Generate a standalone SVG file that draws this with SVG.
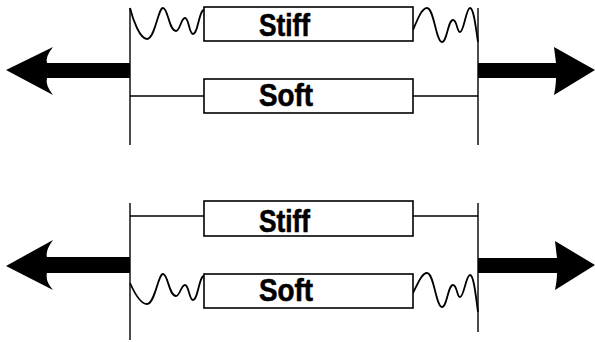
<svg xmlns="http://www.w3.org/2000/svg" width="595" height="342" viewBox="0 0 595 342">
  <style>
    .wall { stroke: #000; stroke-width: 1.4; fill: none; }
    .link { stroke: #000; stroke-width: 1.3; fill: none; }
    .spring { stroke: #000; stroke-width: 1.8; fill: none; stroke-linejoin: round; }
    .box { fill: #fff; stroke: #000; stroke-width: 1.6; }
    .label { font-family: "Liberation Sans", Arial, Helvetica, sans-serif; font-weight: bold; font-size: 31px; fill: #000; stroke: #000; stroke-width: 0.6; }
    .arrow { fill: #000; stroke: none; }
  </style>
  <rect width="595" height="342" fill="#fff"/>

  <!-- Top: stiff element in series with springs, soft element rigidly linked -->
  <g id="connectors-top">
    <line class="wall" x1="130" y1="8" x2="130" y2="145"/>
    <line class="wall" x1="478" y1="8" x2="478" y2="145"/>
    <path class="spring" d="M130,8 C133,20 140,39 147,39 C155,39 158,8 163,8 C168,8 169,31 176,31 C180,31 181,18 185,18 C189,18 189,34 193,34 C198,34 199,10 204,10"/>
    <path class="spring" d="M413,30 C418,18 422,8 427,8 C434,8 436,42 442,42 C447,42 448,20 453,20 C457,20 457,32 460,32 C464,32 466,8 470,8 C474,8 476,30 478,42"/>
    <line class="link" x1="130" y1="96" x2="204" y2="96"/>
    <line class="link" x1="413" y1="96" x2="478" y2="96"/>
    <path class="arrow" d="M6,70 L53,47 Q45,57 47,63 L130,63 L130,78 L47,78 Q45,85 53,95 Z"/>
    <path class="arrow" d="M478,63 L556,63 Q555,55 554,47 L595,70 L554,95 Q556,85 556,78 L478,78 Z"/>
  </g>
  <g id="stiff-top">
    <rect class="box" x="204" y="7" width="209" height="34"/>
    <text class="label" x="259" y="36" textLength="51" lengthAdjust="spacingAndGlyphs">Stiff</text>
  </g>
  <g id="soft-top">
    <rect class="box" x="204" y="79" width="209" height="34"/>
    <text class="label" x="259" y="106" textLength="54" lengthAdjust="spacingAndGlyphs">Soft</text>
  </g>

  <!-- Bottom: stiff element rigidly linked, soft element in series with springs -->
  <g id="connectors-bottom">
    <line class="wall" x1="130" y1="203" x2="130" y2="340"/>
    <line class="wall" x1="478" y1="203" x2="478" y2="332"/>
    <line class="link" x1="130" y1="216" x2="204" y2="216"/>
    <line class="link" x1="413" y1="216" x2="478" y2="216"/>
    <path class="spring" d="M130,283 C134,292 140,304 147,304 C155,304 158,274 163,274 C168,274 169,296 176,296 C180,296 181,285 185,285 C189,285 189,300 193,300 C198,300 199,276 204,276"/>
    <path class="spring" d="M413,293 C418,283 422,273 427,273 C434,273 436,307 442,307 C447,307 448,285 453,285 C457,285 457,297 460,297 C464,297 466,275 470,275 C474,275 476,298 478,312"/>
    <path class="arrow" d="M6,266 L53,240 Q45,251 47,257 L130,257 L130,273 L47,273 Q45,281 53,290 Z"/>
    <path class="arrow" d="M478,258 L557,258 Q556,250 555,241 L595,265 L555,290 Q557,280 557,273 L478,273 Z"/>
  </g>
  <g id="stiff-bottom">
    <rect class="box" x="204" y="201" width="209" height="35"/>
    <text class="label" x="259" y="232" textLength="51" lengthAdjust="spacingAndGlyphs">Stiff</text>
  </g>
  <g id="soft-bottom">
    <rect class="box" x="204" y="274" width="209" height="34"/>
    <text class="label" x="259" y="301" textLength="54" lengthAdjust="spacingAndGlyphs">Soft</text>
  </g>
</svg>
